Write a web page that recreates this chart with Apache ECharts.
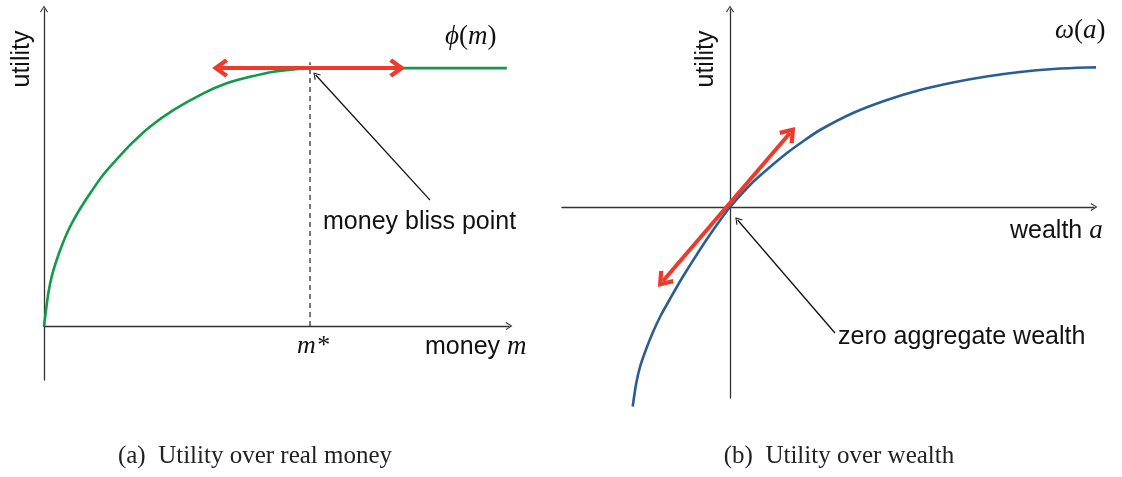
<!DOCTYPE html>
<html>
<head>
<meta charset="utf-8">
<script src="https://cdn.jsdelivr.net/npm/echarts@6/dist/echarts.min.js"></script>
<style>
  html, body { margin: 0; padding: 0; background: #fff; }
  #chart { width: 1122px; height: 477px; }
</style>
</head>
<body>
<div id="chart"></div>
<script>
// (a) utility over real money: phi(m) rises to its bliss level at m*, then stays flat
const moneyM   = [0, 0.038, 0.081, 0.144, 0.238, 0.351, 0.489, 0.664, 0.865, 1.084, 1.353, 1.648,
                  1.992, 2.431, 2.995, 3.434, 3.872, 4.310, 4.812, 5.00, 6.00, 7.00, 8.70];
const moneyPhi = [0, 0.062, 0.127, 0.191, 0.256, 0.320, 0.385, 0.450, 0.514, 0.579, 0.643, 0.708,
                  0.773, 0.837, 0.902, 0.941, 0.966, 0.986, 0.998, 1.00, 1.00, 1.00, 1.00];
const mStar = 5;
const phiBliss = 1;
// horizontal double arrow along the satiation level
const blissArrow = [[3.31, 1], [6.64, 1]];
// pointer from the label to the bliss point
const blissPointer = [[7.256, 0.488], [5.107, 0.973]];

// (b) utility over wealth: concave omega(a) through the origin
const wealthA     = [-1.946, -1.88, -1.80, -1.68, -1.54, -1.38, -1.20, -1.03, -0.86, -0.66, -0.46, -0.23, 0,
                     0.23, 0.46, 0.80, 1.14, 1.47, 1.80, 2.46, 3.14, 3.80, 4.46, 5.13, 5.80, 6.47, 7.14, 7.80];
const wealthOmega = [-3.99, -3.55, -3.20, -2.85, -2.50, -2.16, -1.84, -1.54, -1.26, -0.945, -0.64, -0.31, 0,
                     0.26, 0.50, 0.80, 1.08, 1.32, 1.54, 1.88, 2.14, 2.34, 2.49, 2.61, 2.70, 2.76, 2.79, 2.80];
// tangent double arrow at zero wealth
const tangentArrow = [[-1.34, -1.48], [1.20, 1.48]];
// pointer from the label to the origin
const zeroPointer = [[2.10, -2.52], [0.152, -0.26]];

const SANS = '"Liberation Sans", Arial, sans-serif';
const SERIF = '"Liberation Serif", "Times New Roman", serif';
const AXIS_COLOR = '#333';
const RED = '#ee3a2b';

// open chevron heads (pointing up; ECharts rotates them along the line)
const thinHead = 'path://M0,8 L5,0 L10,8 L8.9,8.8 L5,2.3 L1.1,8.8 Z';
const thickHead = 'path://M10,0 L20,12 L16.6,14.6 L10,6.6 L3.4,14.6 L0,12 Z';

function pairs(xs, ys) { return xs.map((x, i) => [x, ys[i]]); }

function hiddenAxis(extra) {
  return Object.assign({
    type: 'value',
    axisLine: {
      show: true, onZero: true,
      symbol: ['none', thinHead], symbolSize: [8, 7],
      lineStyle: { color: AXIS_COLOR, width: 1.3 }
    },
    axisTick: { show: false },
    axisLabel: { show: false },
    splitLine: { show: false }
  }, extra);
}

function arrowSeries(xi, coords, color, width, heads, size) {
  return {
    type: 'line', xAxisIndex: xi, yAxisIndex: xi, data: [], silent: true,
    markLine: {
      silent: true, animation: false,
      symbol: heads, symbolSize: size,
      label: { show: false },
      emphasis: { disabled: true },
      lineStyle: { color: color, width: width, type: 'solid' },
      data: [[{ coord: coords[0] }, { coord: coords[1] }]]
    }
  };
}

const chart = echarts.init(document.getElementById('chart'), null, { renderer: 'canvas' });

chart.setOption({
  animation: false,
  backgroundColor: '#fff',
  grid: [
    { left: 44, top: 9, width: 465, height: 371 },
    { left: 562, top: 9, width: 532, height: 389 }
  ],
  xAxis: [
    hiddenAxis({ gridIndex: 0, min: 0, max: 8.74 }),
    hiddenAxis({ gridIndex: 1, min: -3.36, max: 7.28 })
  ],
  yAxis: [
    hiddenAxis({ gridIndex: 0, min: -0.209, max: 1.229 }),
    hiddenAxis({ gridIndex: 1, min: -3.82, max: 3.96 })
  ],
  series: [
    {
      type: 'line', xAxisIndex: 0, yAxisIndex: 0,
      data: [[mStar, 0], [mStar, phiBliss + 0.023]],
      showSymbol: false, silent: true, clip: false,
      lineStyle: { color: '#222', width: 1.2, type: [5, 4] }
    },
    {
      type: 'line', xAxisIndex: 0, yAxisIndex: 0,
      data: pairs(moneyM, moneyPhi),
      smooth: 0.2,
      showSymbol: false, silent: true, clip: false,
      lineStyle: { color: '#129a4a', width: 2.6 }
    },
    arrowSeries(0, blissArrow, RED, 4, [thickHead, thickHead], [19, 16]),
    arrowSeries(0, blissPointer, '#111', 1.3, ['none', thinHead], [8, 7]),
    {
      type: 'line', xAxisIndex: 1, yAxisIndex: 1,
      data: pairs(wealthA, wealthOmega),
      smooth: 0.2,
      showSymbol: false, silent: true, clip: false,
      lineStyle: { color: '#2b5d95', width: 2.6 }
    },
    arrowSeries(1, tangentArrow, RED, 4, [thickHead, thickHead], [19, 16]),
    arrowSeries(1, zeroPointer, '#111', 1.3, ['none', thinHead], [8, 7])
  ],
  graphic: [
    { type: 'text', x: 22, y: 59, rotation: Math.PI / 2, silent: true,
      style: { text: 'utility', font: '25px ' + SANS, fill: '#111', align: 'center', verticalAlign: 'middle' } },
    { type: 'text', x: 706, y: 59, rotation: Math.PI / 2, silent: true,
      style: { text: 'utility', font: '25px ' + SANS, fill: '#111', align: 'center', verticalAlign: 'middle' } },
    { type: 'text', x: 445, y: 37, silent: true,
      style: {
        text: '{i|ϕ}{r|(}{i|m}{r|)}', fill: '#111', align: 'left', verticalAlign: 'middle',
        rich: { i: { font: 'italic 27px ' + SERIF, fill: '#111' }, r: { font: '27px ' + SERIF, fill: '#111' } }
      } },
    { type: 'text', x: 1055, y: 31, silent: true,
      style: {
        text: '{i|ω}{r|(}{i|a}{r|)}', fill: '#111', align: 'left', verticalAlign: 'middle',
        rich: { i: { font: 'italic 27px ' + SERIF, fill: '#111' }, r: { font: '27px ' + SERIF, fill: '#111' } }
      } },
    { type: 'text', x: 323, y: 222, silent: true,
      style: { text: 'money bliss point', font: '25px ' + SANS, fill: '#111', align: 'left', verticalAlign: 'middle' } },
    { type: 'text', x: 838, y: 337, silent: true,
      style: { text: 'zero aggregate wealth', font: '25px ' + SANS, fill: '#111', align: 'left', verticalAlign: 'middle' } },
    { type: 'text', x: 313, y: 346, silent: true,
      style: { text: 'm*', font: 'italic 26px ' + SERIF, fill: '#111', align: 'center', verticalAlign: 'middle' } },
    { type: 'text', x: 425, y: 347, silent: true,
      style: {
        text: '{s|money }{i|m}', fill: '#111', align: 'left', verticalAlign: 'middle',
        rich: { s: { font: '25px ' + SANS, fill: '#111' }, i: { font: 'italic 27px ' + SERIF, fill: '#111' } }
      } },
    { type: 'text', x: 1010, y: 231, silent: true,
      style: {
        text: '{s|wealth }{i|a}', fill: '#111', align: 'left', verticalAlign: 'middle',
        rich: { s: { font: '25px ' + SANS, fill: '#111' }, i: { font: 'italic 27px ' + SERIF, fill: '#111' } }
      } },
    { type: 'text', x: 255, y: 456, silent: true,
      style: { text: '(a)  Utility over real money', font: '25px ' + SERIF, fill: '#222', align: 'center', verticalAlign: 'middle' } },
    { type: 'text', x: 839, y: 456, silent: true,
      style: { text: '(b)  Utility over wealth', font: '25px ' + SERIF, fill: '#222', align: 'center', verticalAlign: 'middle' } }
  ]
});
</script>
</body>
</html>
